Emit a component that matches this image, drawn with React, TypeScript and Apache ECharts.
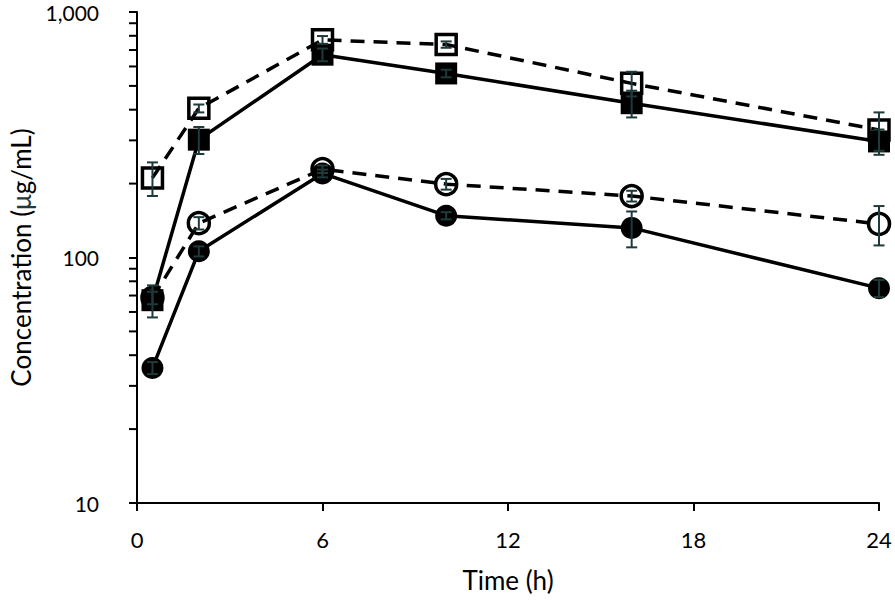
import React, { useEffect, useRef } from "react";
import * as echarts from "echarts";

const times = [0.5, 2, 6, 10, 16, 24];
const openSquare = [211, 405, 770, 737, 512, 331];
const openSquareErr = [33, 15, 28, 22, 59, 59];
const filledSquare = [67, 302, 670, 562, 425, 297];
const filledSquareErr = [10, 38, 40, 20, 53, 35];
const openCircle = [68.5, 138, 229, 199, 178, 137];
const openCircleErr = [4, 8, 8, 10, 9, 25];
const filledCircle = [35.5, 106, 220, 148, 132, 75];
const filledCircleErr = [2, 5, 8, 5, 22, 6];
const xTicks = [0, 6, 12, 18, 24];
const minorTicks = [20, 30, 40, 50, 60, 70, 80, 90, 200, 300, 400, 500, 600, 700, 800, 900];

const FONT = "Lato";
const ERR_COLOR = "#1f3a3a";

function pairs(vals: number[]) {
  return times.map((t, i) => [t, vals[i]]);
}
function errData(vals: number[], errs: number[]) {
  return times.map((t, i) => [t, vals[i], errs[i]]);
}

const errRender = (params: any, api: any) => {
  const x = api.value(0);
  const v = api.value(1);
  const e = api.value(2);
  const top = api.coord([x, v + e]);
  const bot = api.coord([x, v - e]);
  const hw = 5.5;
  const style = { stroke: ERR_COLOR, lineWidth: 2 };
  return {
    type: "group",
    children: [
      { type: "line", shape: { x1: top[0], y1: top[1], x2: bot[0], y2: bot[1] }, style },
      { type: "line", shape: { x1: top[0] - hw, y1: top[1], x2: top[0] + hw, y2: top[1] }, style },
      { type: "line", shape: { x1: bot[0] - hw, y1: bot[1], x2: bot[0] + hw, y2: bot[1] }, style },
    ],
  };
};

export default function App() {
  const ref = useRef<HTMLDivElement>(null);
  useEffect(() => {
    if (!ref.current) return;
    const chart = echarts.init(ref.current, undefined, { renderer: "svg" });
    const lineSeries = (
      name: string,
      vals: number[],
      symbol: string,
      filled: boolean,
      dashed: boolean,
      size: number,
      z: number
    ) => ({
      name,
      type: "line",
      data: pairs(vals),
      symbol,
      symbolSize: size,
      showAllSymbol: true,
      z,
      lineStyle: {
        color: "#000",
        width: 3.5,
        type: dashed ? [14, 9] : "solid",
      },
      itemStyle: {
        color: filled ? "#000" : "rgba(0,0,0,0)",
        borderColor: "#000",
        borderWidth: filled ? 0 : 3.5,
        opacity: 1,
      },
      emphasis: { disabled: true },
    });
    const errSeries = (vals: number[], errs: number[]) => ({
      type: "custom",
      data: errData(vals, errs),
      renderItem: errRender,
      z: 10,
      silent: true,
      encode: { x: 0, y: 1 },
    });
    chart.setOption({
      animation: false,
      backgroundColor: "#fff",
      grid: { left: 131, right: 16, top: 12, bottom: 97, containLabel: false },
      xAxis: {
        type: "value",
        min: 0,
        max: 24,
        interval: 6,
        name: "Time (h)",
        nameLocation: "middle",
        nameGap: 64,
        nameTextStyle: { fontFamily: FONT, fontSize: 26, color: "#000" },
        axisLine: { show: true, lineStyle: { color: "#000", width: 2 } },
        axisTick: { show: true, length: 8, inside: false, lineStyle: { color: "#000", width: 2 } },
        axisLabel: {
          margin: 25,
          fontFamily: FONT,
          fontSize: 22,
          color: "#000",
          formatter: (v: number) => (xTicks.includes(v) ? String(v) : ""),
        },
        splitLine: { show: false },
      },
      yAxis: {
        type: "log",
        logBase: 10,
        min: 10,
        max: 1000,
        name: "{a|Concentration (}{m|μ}{a|g/mL)}",
        nameLocation: "middle",
        nameGap: 103,
        nameTextStyle: {
          rich: {
            a: { fontFamily: FONT, fontSize: 26, color: "#000" },
            m: { fontFamily: FONT, fontSize: 26, color: ERR_COLOR },
          },
        },
        axisLine: { show: true, lineStyle: { color: "#000", width: 2 } },
        axisTick: { show: true, length: 8, inside: false, lineStyle: { color: "#000", width: 2 } },
        axisLabel: {
          margin: 38,
          fontFamily: FONT,
          fontSize: 21,
          color: "#000",
          formatter: (v: number) => Math.round(v).toLocaleString("en-US"),
        },
        splitLine: { show: false },
      },
      series: [
        {
          type: "custom",
          data: minorTicks.map((v) => [0, v]),
          clip: false,
          silent: true,
          encode: { x: 0, y: 1 },
          renderItem: (params: any, api: any) => {
            const p = api.coord([0, api.value(1)]);
            return {
              type: "line",
              shape: { x1: p[0] - 8, y1: p[1], x2: p[0], y2: p[1] },
              style: { stroke: "#000", lineWidth: 2 },
            };
          },
        },
        lineSeries("openCircle", openCircle, "circle", false, true, 21, 2),
        lineSeries("filledCircle", filledCircle, "circle", true, false, 22, 3),
        lineSeries("openSquare", openSquare, "rect", false, true, 20, 4),
        lineSeries("filledSquare", filledSquare, "rect", true, false, 22, 5),
        errSeries(openCircle, openCircleErr),
        errSeries(filledCircle, filledCircleErr),
        errSeries(openSquare, openSquareErr),
        errSeries(filledSquare, filledSquareErr),
      ],
    });
    return () => chart.dispose();
  }, []);
  return <div ref={ref} style={{ width: 895, height: 600, position: "absolute", left: 0, top: 0 }} />;
}
